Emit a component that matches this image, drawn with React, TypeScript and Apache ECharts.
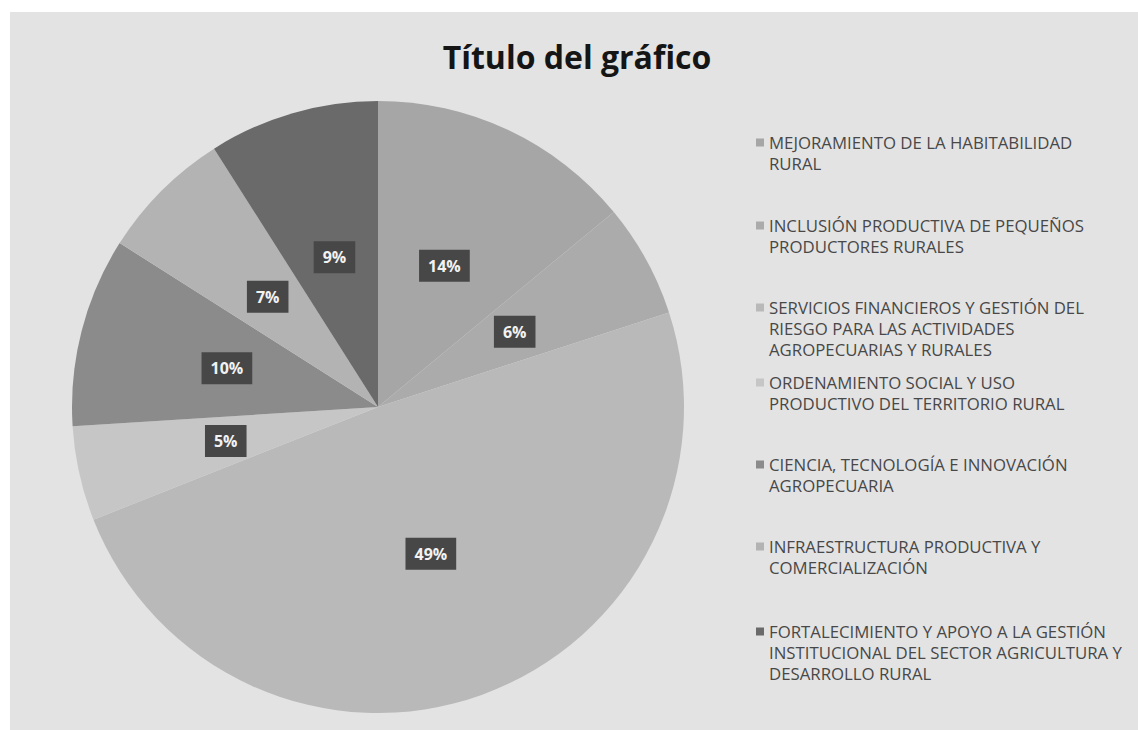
import React, { useEffect, useRef } from "react";
import * as echarts from "echarts";

const categories = [
  "MEJORAMIENTO DE LA HABITABILIDAD\nRURAL",
  "INCLUSIÓN PRODUCTIVA DE PEQUEÑOS\nPRODUCTORES RURALES",
  "SERVICIOS FINANCIEROS Y GESTIÓN DEL\nRIESGO PARA LAS ACTIVIDADES\nAGROPECUARIAS Y RURALES",
  "ORDENAMIENTO SOCIAL Y USO\nPRODUCTIVO DEL TERRITORIO RURAL",
  "CIENCIA, TECNOLOGÍA E INNOVACIÓN\nAGROPECUARIA",
  "INFRAESTRUCTURA PRODUCTIVA Y\nCOMERCIALIZACIÓN",
  "FORTALECIMIENTO Y APOYO A LA GESTIÓN\nINSTITUCIONAL DEL SECTOR AGRICULTURA Y\nDESARROLLO RURAL",
];
const values = [14, 6, 49, 5, 10, 7, 9];
const colors = ["#a6a6a6", "#ababab", "#b9b9b9", "#c6c6c6", "#8b8b8b", "#b3b3b3", "#6a6a6a"];
const legendTops = [132, 215, 297, 372, 454, 536, 621];
const title = "Título del gráfico";

const LINE_H = 21;

function iconFor(lines: number): string {
  const h = lines * LINE_H;
  const y0 = (LINE_H - 8) / 2;
  return `path://M0,${y0}L8,${y0}L8,${y0 + 8}L0,${y0 + 8}Z M0,0L0.01,0L0,0.01Z M0,${h}L0.01,${h}L0,${h - 0.01}Z`;
}

export default function App() {
  const ref = useRef<HTMLDivElement>(null);
  useEffect(() => {
    if (!ref.current) return;
    const chart = echarts.init(ref.current, undefined, { renderer: "svg" });
    const legends = categories.map((name, i) => {
      const lines = name.split("\n").length;
      return {
        show: true,
        orient: "vertical",
        left: 756,
        top: legendTops[i],
        data: [name],
        icon: iconFor(lines),
        itemWidth: 8,
        itemHeight: lines * LINE_H,
        symbolKeepAspect: false,
        itemGap: 0,
        padding: 0,
        selectedMode: false,
        textStyle: {
          fontFamily: "Open Sans",
          fontSize: 16.8,
          color: "#484848",
          lineHeight: LINE_H,
        },
      };
    });
    chart.setOption({
      animation: false,
      backgroundColor: "#ffffff",
      color: colors,
      graphic: [
        {
          type: "rect",
          shape: { x: 10, y: 12, width: 1128, height: 718 },
          style: { fill: "#e3e3e3" },
          z: -10,
          silent: true,
        },
      ],
      title: {
        text: title,
        left: 572,
        top: 35,
        textAlign: "center",
        textStyle: {
          fontFamily: "Open Sans",
          fontWeight: "bold",
          fontSize: 32,
          color: "#151515",
        },
      },
      legend: legends,
      series: [
        {
          type: "pie",
          center: [378, 407],
          radius: 306,
          startAngle: 90,
          clockwise: true,
          avoidLabelOverlap: false,
          itemStyle: { borderWidth: 0 },
          label: {
            show: true,
            position: "inside",
            formatter: "{d}%",
            backgroundColor: "#474747",
            color: "#f2f2f2",
            fontFamily: "Open Sans",
            fontWeight: "bold",
            fontSize: 16,
            padding: [8, 9],
          },
          labelLine: { show: false },
          emphasis: { disabled: true },
          data: categories.map((name, i) => ({ name, value: values[i] })),
        },
      ],
    });
    return () => chart.dispose();
  }, []);
  return (
    <div
      ref={ref}
      style={{ position: "fixed", left: 0, top: 0, width: 1138, height: 730 }}
    />
  );
}
